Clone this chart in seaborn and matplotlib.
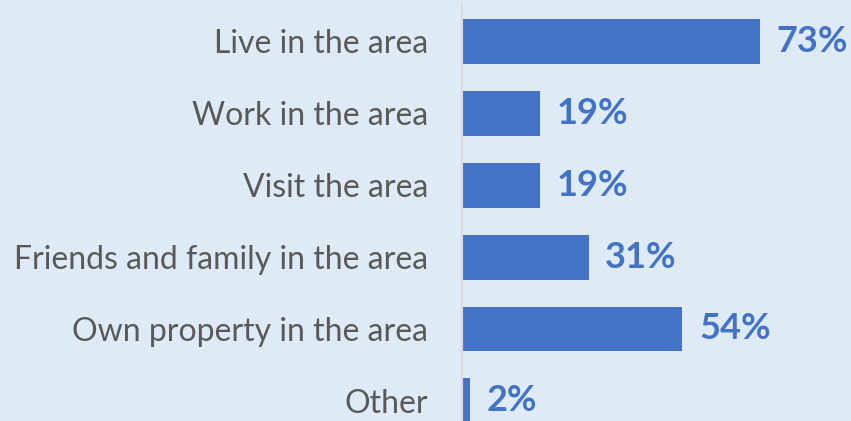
import matplotlib
matplotlib.use("Agg")
import matplotlib.pyplot as plt
import seaborn as sns
import pandas as pd

categories = ["Live in the area", "Work in the area", "Visit the area",
              "Friends and family in the area", "Own property in the area", "Other"]
values = [73, 19, 19, 31, 54, 2]
value_labels = ["73%", "19%", "19%", "31%", "54%", "2%"]

bg = "#DEEBF7"
bar_color = "#4472C4"

sns.set_theme(style="white")
plt.rcParams['font.family'] = ['Lato', 'DejaVu Sans']

fig = plt.figure(figsize=(8.51, 4.21), dpi=100)
fig.patch.set_facecolor(bg)
ax = fig.add_axes([0.5429, 0.0, 0.4571, 0.988])
ax.set_facecolor(bg)

df = pd.DataFrame({"category": categories, "value": values})
sns.barplot(data=df, x="value", y="category", orient="h", color=bar_color,
            width=0.625, saturation=1, linewidth=0, ax=ax)

ax.set_xlim(0, 95.3)
ax.set_ylim(5.278, -0.5)
ax.set_xlabel("")
ax.set_ylabel("")
ax.set_xticks([])
for s in ["top", "right", "bottom"]:
    ax.spines[s].set_visible(False)
ax.spines["left"].set_color("#D9D9D9")
ax.spines["left"].set_linewidth(1.6)
ax.tick_params(axis="y", length=0, pad=24.5, labelsize=23, labelcolor="#595959")

ax.bar_label(ax.containers[0], labels=value_labels, padding=12,
             fontsize=26, fontweight="bold", color=bar_color)

fig.savefig("out.png", dpi=100, facecolor=bg)
